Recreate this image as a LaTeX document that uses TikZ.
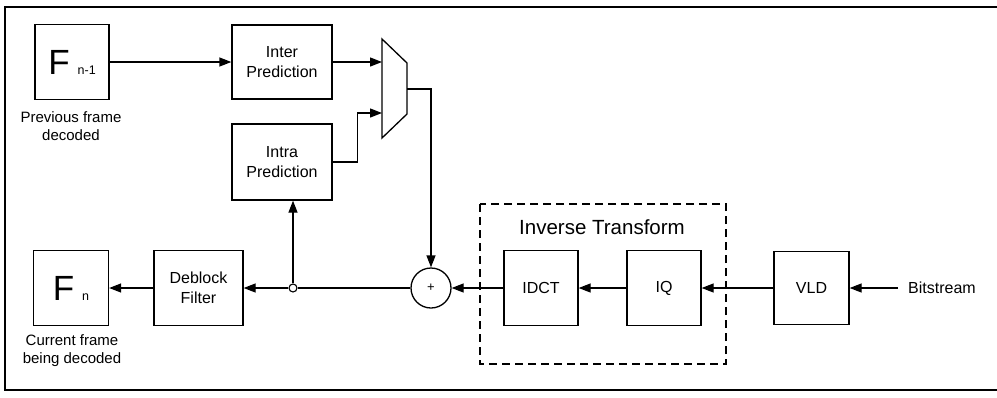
\documentclass[tikz,border=0pt]{standalone}
\usepackage{fontspec}
\setmainfont{Liberation Sans}
\usetikzlibrary{arrows.meta,calc}

\begin{document}
\begin{tikzpicture}[x=1pt,y=-1pt,
  every node/.style={font=\fontsize{16}{19.5}\selectfont},
  blk/.style={draw,line width=1.3pt,minimum width=#1,align=center,inner sep=0pt},
  blk/.default=75pt,
  arr/.style={line width=1.3pt,-{Triangle[length=12pt,width=9pt]}},
  wire/.style={line width=1.3pt},
  caption/.style={align=center,font=\fontsize{15}{18}\selectfont}]

\useasboundingbox (0,0) rectangle (997,397);

% outer frame (open on the right)
\draw[line width=1.5pt] (997,7) -- (5,7) -- (5,390) -- (997,390);

% frame stores
\node[blk=74pt,minimum height=75pt] (fprev) at (72,62)
  {{\fontsize{35}{35}\selectfont F}\hspace{8pt}{\fontsize{12.5}{12.5}\selectfont n-1}};
\node[caption] at (71,126) {Previous frame\\decoded};

\node[blk=75pt,minimum height=75pt] (fcur) at (71,288)
  {{\fontsize{35}{35}\selectfont F}\hspace{8pt}{\fontsize{12.5}{12.5}\selectfont n}};
\node[caption] at (72,351) {Current frame\\being decoded};

% prediction blocks
\node[blk=100pt,minimum height=74pt] (inter) at (282,62) {Inter\\Prediction};
\node[blk=100pt,minimum height=76pt] (intra) at (282,162) {Intra\\Prediction};

% selector
\coordinate (muxa) at (382,62);
\coordinate (muxb) at (382,113);
\coordinate (muxo) at (407,89);
\draw[line width=1.3pt] (382,39) -- (407,63) -- (407,114) -- (382,138) -- cycle;

% reconstruction path
\node[draw,circle,line width=1.3pt,minimum size=40pt,inner sep=0pt,
      font=\fontsize{13}{13}\selectfont] (add) at (431,288) {+};
\node[draw,circle,line width=1.1pt,minimum size=8pt,inner sep=0pt,fill=white] (jn) at (293,288) {};
\node[blk=89pt,minimum height=75pt] (deb) at (198.5,288) {Deblock\\Filter};

% inverse transform group
\draw[line width=1.3pt,dash pattern=on 8pt off 5pt] (480,204) rectangle (726,364);
\node[font=\fontsize{20.5}{24}\selectfont] (itlabel) at (602,227) {Inverse Transform};
\node[blk=74pt,minimum height=75pt] (idct) at (541,288) {IDCT};
\node[blk=74pt,minimum height=75pt] (iq) at (664,288) {IQ};
\node[blk=75pt,minimum height=73pt] (vld) at (811.5,288) {VLD};
\node[anchor=west,inner sep=0pt] (bits) at (908,288) {Bitstream};
\coordinate (bitsin) at (898,288);

% connectors
\draw[arr] (fprev) -- (inter);
\draw[arr] (inter.east) -- (muxa);
\draw[arr] (intra.east) -| ($(intra.east)!0.5!(muxb)$) |- (muxb);
\draw[arr] (muxo) -| (add.north);
\draw[arr] (bitsin) -- (vld);
\draw[arr] (vld) -- (iq);
\draw[arr] (iq) -- (idct);
\draw[arr] (idct) -- (add);
\draw[wire] (add) -- (jn);
\draw[arr] (jn) -- (deb);
\draw[arr] (jn.north) -- (jn |- intra.south);
\draw[arr] (deb) -- (fcur);

\end{tikzpicture}
\end{document}
